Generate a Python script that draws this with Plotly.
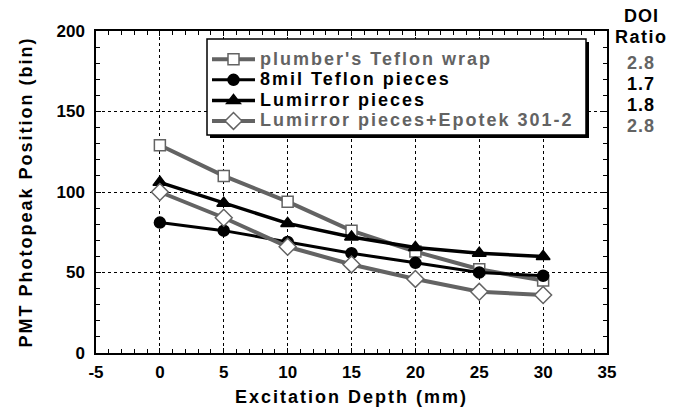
import plotly.graph_objects as go

# ---- data ----
depth = [0, 5, 10, 15, 20, 25, 30]
plumber = [129, 110, 94, 76, 63, 52, 45]
teflon8 = [81, 76, 69, 62, 56, 50, 48]
lumirror = [106, 93, 80.5, 72, 65.5, 62, 60]
epotek = [100, 84, 66, 55, 46, 38, 36]

series_names = ["plumber's Teflon wrap", "8mil Teflon pieces",
                "Lumirror pieces", "Lumirror pieces+Epotek 301-2"]
doi_ratio = ["2.8", "1.7", "1.8", "2.8"]

x_tickvals = [-5, 0, 5, 10, 15, 20, 25, 30, 35]
x_ticktext = ["-5", "0", "5", "10", "15", "20", "25", "30", "35"]

GRAY = "#636363"
BLACK = "#000000"
FONT = "Liberation Sans"

# plot area in pixels (for paper-coordinate helpers)
L, R, T, B = 96, 607, 31, 353
W, H = 688, 411


def px(x):
    return (x - L) / (R - L)


def py(y):
    return (B - y) / (B - T)


def lab(text, color, size, spacing):
    return (f'<span style="font-size:{size}px;letter-spacing:{spacing}px;'
            f'font-weight:700;color:{color}"><b>{text}</b></span>')


styles = [
    dict(y=plumber, color=GRAY, lw=4, sym="square", msize=11, fill="white", mline=GRAY),
    dict(y=teflon8, color=BLACK, lw=3, sym="circle", msize=11, fill=BLACK, mline=BLACK),
    dict(y=lumirror, color=BLACK, lw=3.5, sym="triangle-up", msize=12, fill=BLACK, mline=BLACK),
    dict(y=epotek, color=GRAY, lw=4, sym="diamond", msize=13, fill="white", mline=GRAY),
]

fig = go.Figure()
for name, s in zip(series_names, styles):
    fig.add_trace(go.Scatter(
        x=depth, y=s["y"], mode="lines+markers",
        name=lab(name, s["color"], 18, 2),
        line=dict(color=s["color"], width=s["lw"]),
        marker=dict(symbol=s["sym"], size=s["msize"], color=s["fill"],
                    line=dict(color=s["mline"], width=1.5)),
    ))

tick_font = dict(family=FONT, size=17, color="black", weight=700)
axis_common = dict(
    showline=True, linecolor="black", linewidth=1.5, mirror="allticks",
    ticks="inside", ticklen=5, tickcolor="black", tickwidth=1,
    showgrid=True, gridcolor="black", gridwidth=1, griddash="dot",
    zeroline=False,
    tickfont=tick_font,
)

fig.update_xaxes(
    range=[-5, 35], tickmode="array", tickvals=x_tickvals,
    ticktext=[f"<b>{t}</b>" for t in x_ticktext],
    minor=dict(dtick=1, ticks="inside", ticklen=4, tickcolor="black", showgrid=False),
    title=dict(text=lab("Excitation Depth (mm)", "black", 18, 2),
               font=dict(family=FONT, size=18, color="black", weight=700),
               standoff=9),
    ticklabelstandoff=3,
    **axis_common,
)
fig.update_yaxes(
    range=[0, 200], tick0=0, dtick=50, tickprefix="<b>", ticksuffix="</b>",
    minor=dict(dtick=10, ticks="inside", ticklen=4, tickcolor="black", showgrid=False),
    title=dict(text=lab("PMT Photopeak Position (bin)", "black", 18, 2),
               font=dict(family=FONT, size=18, color="black", weight=700),
               standoff=19),
    ticklabelstandoff=6,
    **axis_common,
)

# legend frame with drop shadow
fig.add_shape(type="rect", xref="paper", yref="paper",
              x0=px(210), x1=px(589), y0=py(138), y1=py(42),
              fillcolor="black", line=dict(width=0), layer="above")
fig.add_shape(type="rect", xref="paper", yref="paper",
              x0=px(207), x1=px(586), y0=py(135), y1=py(39),
              fillcolor="white", line=dict(color="black", width=1.5), layer="above")

# DOI ratio column
fig.add_annotation(text=lab("DOI", "black", 18, 1), xref="paper", yref="paper",
                   x=px(641), y=py(16), showarrow=False, xanchor="center", yanchor="middle",
                   font=dict(family=FONT, size=18, weight=700))
fig.add_annotation(text=lab("Ratio", "black", 18, 1.5), xref="paper", yref="paper",
                   x=px(641), y=py(37), showarrow=False, xanchor="center", yanchor="middle",
                   font=dict(family=FONT, size=18, weight=700))
for i, (v, s) in enumerate(zip(doi_ratio, styles)):
    fig.add_annotation(text=lab(v, s["color"], 18, 1), xref="paper", yref="paper",
                       x=px(641), y=py(63 + 21 * i), showarrow=False,
                       xanchor="center", yanchor="middle",
                       font=dict(family=FONT, size=18, weight=700))

fig.update_layout(
    width=W, height=H,
    margin=dict(l=L, r=W - R, t=T, b=H - B, autoexpand=False),
    paper_bgcolor="white", plot_bgcolor="white",
    showlegend=True,
    legend=dict(x=px(207), y=py(44), xanchor="left", yanchor="top",
                bgcolor="rgba(0,0,0,0)", borderwidth=0,
                font=dict(family=FONT, size=13.5, color="black", weight=700),
                itemwidth=43, tracegroupgap=0),
    font=dict(family=FONT),
)

fig.write_html("out.html")
